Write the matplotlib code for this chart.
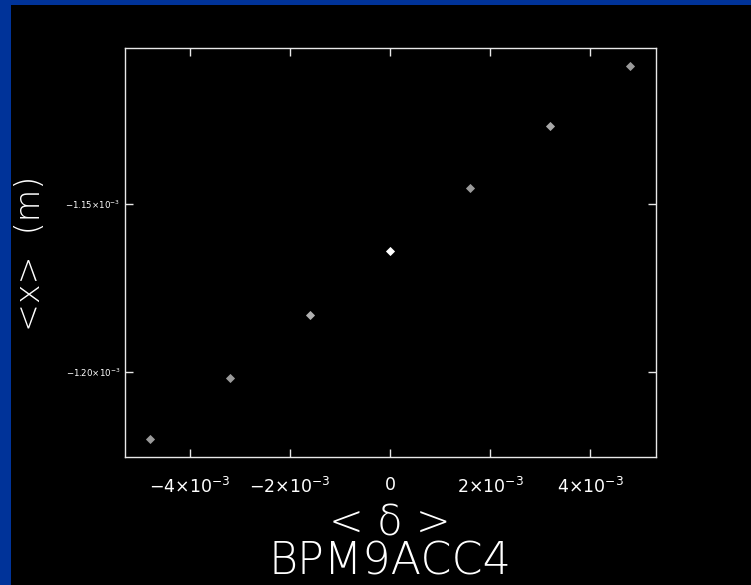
import matplotlib.pyplot as plt
from matplotlib.patches import Rectangle
from matplotlib.ticker import FixedLocator

# dane
delta = [-4.8e-3, -3.2e-3, -1.6e-3, 0.0, 1.6e-3, 3.2e-3, 4.8e-3]
x_mean = [-1.2200e-3, -1.2018e-3, -1.1830e-3, -1.1640e-3, -1.1452e-3, -1.1268e-3, -1.1091e-3]
pt_colors = ['#9a9a9a', '#9a9a9a', '#b0b0b0', '#ffffff', '#9a9a9a', '#a8a8a8', '#9a9a9a']

xticks = [-4e-3, -2e-3, 0.0, 2e-3, 4e-3]
xtick_labels = [r'$-4{\times}10^{-3}$', r'$-2{\times}10^{-3}$', '0',
                r'$2{\times}10^{-3}$', r'$4{\times}10^{-3}$']
yticks = [-1.20e-3, -1.15e-3]
ytick_labels = [r'$-1.20{\times}10^{-3}$', r'$-1.15{\times}10^{-3}$']

plt.rcParams['mathtext.fontset'] = 'dejavusans'

fig = plt.figure(figsize=(7.51, 5.85), dpi=100, facecolor='black')
# niebieska ramka (gora i lewa strona)
fig.patches.append(Rectangle((0, 1 - 5 / 585), 1, 5 / 585, transform=fig.transFigure,
                             facecolor='#003399', edgecolor='none'))
fig.patches.append(Rectangle((0, 0), 11 / 751, 1, transform=fig.transFigure,
                             facecolor='#003399', edgecolor='none'))

ax = fig.add_axes([124.5 / 751, 1 - 457 / 585, 531 / 751, 409 / 585])
ax.set_facecolor('black')

for xv, yv, c in zip(delta, x_mean, pt_colors):
    ax.plot(xv, yv, marker='D', markersize=4, color=c, markeredgewidth=0.6, linestyle='none')

ax.set_xlim(-5.31e-3, 5.31e-3)
ax.set_ylim(-1.2254e-3, -1.1036e-3)

ax.xaxis.set_major_locator(FixedLocator(xticks))
ax.set_xticklabels(xtick_labels)
ax.yaxis.set_major_locator(FixedLocator(yticks))
ax.set_yticklabels(ytick_labels)

for s in ax.spines.values():
    s.set_color('#e8e8e8')
    s.set_linewidth(1.0)

ax.tick_params(axis='x', direction='in', length=6, width=1, colors='#e8e8e8',
               top=True, labelsize=12.5, pad=14, labelcolor='white')
ax.tick_params(axis='y', direction='in', length=6, width=1, colors='#e8e8e8',
               right=True, labelsize=6.2, pad=3, labelcolor='white')

fig.text(30 / 751, 1 - 253 / 585, '<x>  (m)', rotation=90, color='white',
         fontsize=24, ha='center', va='center', fontweight='light')
fig.text(390 / 751, 1 - 523 / 585, '< δ >', color='white',
         fontsize=30, ha='center', va='center', fontweight='light')
fig.text(390 / 751, 1 - 562 / 585, 'BPM9ACC4', color='white', fontsize=32,
         ha='center', va='center', fontweight='light')

fig.savefig('out.png', dpi=100, facecolor='black')
